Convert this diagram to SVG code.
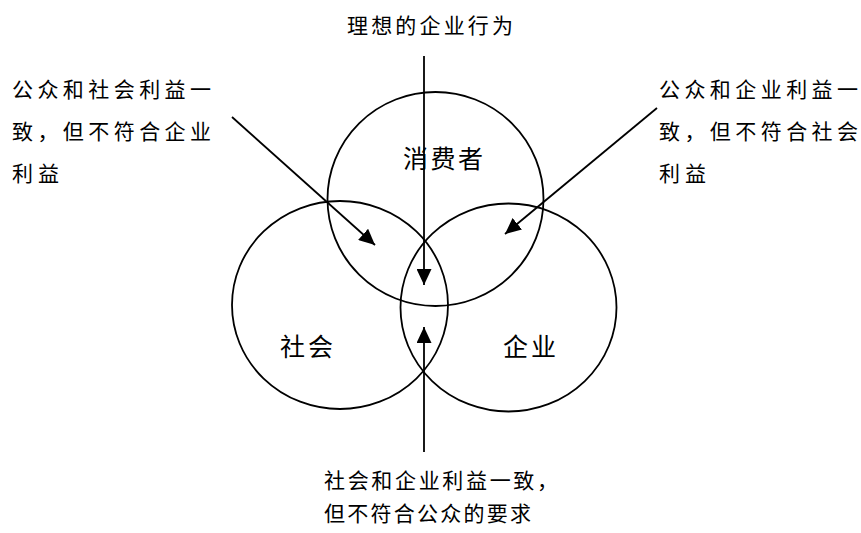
<svg xmlns="http://www.w3.org/2000/svg" width="861" height="533" viewBox="0 0 861 533">
<style>
.c{fill:none;stroke:#000;stroke-width:1.8}
.l{stroke:#000;stroke-width:1.8;fill:none}
.t{font-family:"Noto Sans CJK SC","Noto Sans CJK TC",sans-serif;font-size:21px;fill:#000}
.n{font-family:"Noto Sans CJK SC","Noto Sans CJK TC",sans-serif;font-size:25px;fill:#000}
</style>
<defs>
<marker id="ah" markerUnits="userSpaceOnUse" viewBox="0 0 16 15" refX="16" refY="7.5" markerWidth="16" markerHeight="15" orient="auto">
<path d="M0,0 L16,7.5 L0,15 z" fill="#000"/>
</marker>
</defs>
<rect width="861" height="533" fill="#fff"/>
<g id="consumer">
<ellipse class="c" cx="435.5" cy="199" rx="108" ry="107"/>
<text class="n" x="403" y="168" textLength="80" lengthAdjust="spacing">消费者</text>
</g>
<g id="society">
<ellipse class="c" cx="340" cy="305" rx="108" ry="104"/>
<text class="n" x="280" y="356" textLength="53" lengthAdjust="spacing">社会</text>
</g>
<g id="enterprise">
<ellipse class="c" cx="508.5" cy="307.5" rx="108" ry="104"/>
<text class="n" x="503" y="356" textLength="53" lengthAdjust="spacing">企业</text>
</g>
<g id="connectors">
<line class="l" x1="424" y1="56" x2="424" y2="285" marker-end="url(#ah)"/>
<line class="l" x1="424" y1="452" x2="424" y2="327" marker-end="url(#ah)"/>
<line class="l" x1="232" y1="117" x2="375" y2="245" marker-end="url(#ah)"/>
<line class="l" x1="657" y1="108" x2="505" y2="234" marker-end="url(#ah)"/>
</g>
<g id="label-top">
<text class="t" x="347" y="33" textLength="166" lengthAdjust="spacing">理想的企业行为</text>
</g>
<g id="label-left">
<text class="t" x="12" y="97" textLength="199" lengthAdjust="spacing">公众和社会利益一</text>
<text class="t" x="12" y="139" textLength="199" lengthAdjust="spacing">致，但不符合企业</text>
<text class="t" x="12" y="181" textLength="47" lengthAdjust="spacing">利益</text>
</g>
<g id="label-right">
<text class="t" x="659" y="97" textLength="199" lengthAdjust="spacing">公众和企业利益一</text>
<text class="t" x="659" y="139" textLength="199" lengthAdjust="spacing">致，但不符合社会</text>
<text class="t" x="659" y="181" textLength="47" lengthAdjust="spacing">利益</text>
</g>
<g id="label-bottom">
<text class="t" x="324" y="488" textLength="234" lengthAdjust="spacing">社会和企业利益一致，</text>
<text class="t" x="324" y="521" textLength="207" lengthAdjust="spacing">但不符合公众的要求</text>
</g>
</svg>
